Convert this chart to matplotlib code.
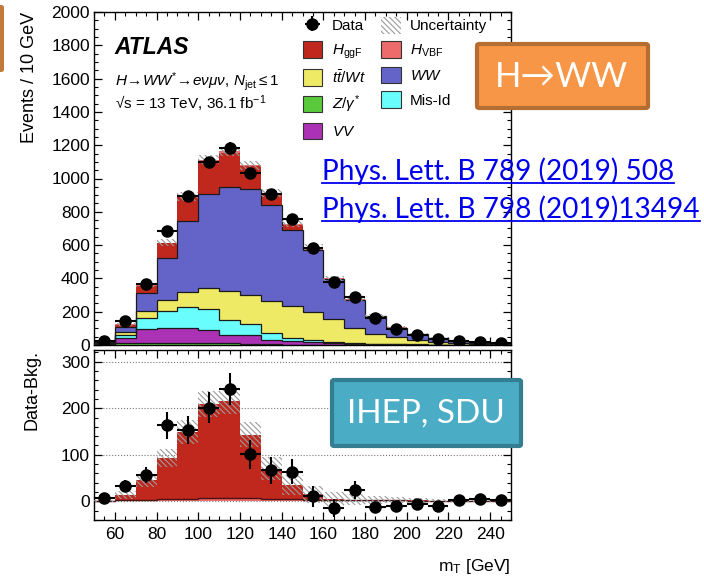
import numpy as np
import matplotlib
matplotlib.use('Agg')
import matplotlib.pyplot as plt
import matplotlib.patches as mpatches
from matplotlib.lines import Line2D
from matplotlib.ticker import MultipleLocator

plt.rcParams['font.family'] = ['Liberation Sans', 'DejaVu Sans']
plt.rcParams['mathtext.fontset'] = 'custom'
plt.rcParams['mathtext.rm'] = 'Liberation Sans'
plt.rcParams['mathtext.it'] = 'Liberation Sans:italic'
plt.rcParams['mathtext.bf'] = 'Liberation Sans:bold'
plt.rcParams['hatch.linewidth'] = 0.8

# m_T bins, 10 GeV wide
edges = np.arange(50, 260, 10)
centers = edges[:-1] + 5

# stacked components (events / 10 GeV)
zjets = [2, 12, 15, 15, 14, 12, 10, 8, 5, 3, 2, 1, 1, 0.5, 0.5, 0.5, 0.3, 0.3, 0.2, 0.2]
vv = [1, 28, 79, 85, 86, 78, 50, 50, 27, 21, 16, 11, 7, 4.5, 3.5, 2.5, 1.7, 0.7, 0.8, 0.3]
misid = [3, 22, 69, 105, 129, 125, 92, 71, 42, 20, 10, 4, 2, 2, 1, 1, 1, 1, 0.5, 0.5]
ttbar = [4, 16, 42, 67, 89, 127, 175, 174, 189, 191, 170, 139, 95, 61, 43, 26, 15, 10, 6.5, 3]
ww = [10, 32, 110, 250, 425, 562, 621, 635, 580, 458, 374, 240, 165, 104, 56, 34, 24, 10, 6, 2]
hggf = [0, 12, 42, 88, 143, 202, 207, 136, 64, 30, 11, 3, 1, 1, 0.5, 0.5, 0.3, 0.3, 0.2, 0.2]
hvbf = [1, 2, 3, 5, 6, 8, 8, 7, 6, 5, 4, 3, 3, 2, 2, 1.5, 1.5, 1, 1, 1]
unc = [3, 8, 14, 20, 25, 28, 28, 27, 25, 22, 18, 15, 12, 9, 7, 5, 4, 3, 2, 2]

data = [25, 145, 365, 685, 893, 1098, 1185, 1035, 908, 755, 582, 381, 291, 161, 94, 60, 34, 26, 20, 10]
data_err = [5, 12, 17, 29, 30, 33, 34, 31, 29, 27, 23, 20, 19, 9, 8, 7, 6, 5, 5, 4]
diff = [7, 34, 56, 163, 154, 201, 241, 101, 67, 64, 11, -14, 24, -12, -11, -6, -10, 4, 6, 4]

col_z = '#5ACA3C'
col_vv = '#AB32B5'
col_mis = '#6AFDFD'
col_tt = '#EFEA65'
col_ww = '#6464C8'
col_ggf = '#C0281E'
col_vbf = '#EE6B6B'
hatch = '\\\\\\\\\\\\'
hatch_col = '#9a9a9a'

W, H = 704, 576
fig = plt.figure(figsize=(W / 100, H / 100), dpi=100)

def fx(px):
    return px / W

def fy(py):
    return 1 - py / H

ax1 = fig.add_axes([fx(94), fy(345), fx(511) - fx(94), fy(12) - fy(345)])
ax2 = fig.add_axes([fx(94), fy(520), fx(511) - fx(94), fy(350) - fy(520)])

# ---- top panel: stacked histogram
stack = [(zjets, col_z), (vv, col_vv), (misid, col_mis), (ttbar, col_tt),
         (ww, col_ww), (hggf, col_ggf), (hvbf, col_vbf)]
base = np.zeros(len(centers))
outlines = []
for vals, col in stack:
    top = base + np.array(vals, dtype=float)
    ax1.stairs(top, edges, baseline=base, fill=True, color=col, lw=0, zorder=2)
    outlines.append((top, col))
    base = top
total = base
for top, col in outlines[:-2]:
    ax1.stairs(top, edges, baseline=None, color='#1a1a1a', lw=0.9, zorder=3)

unc_a = np.array(unc, dtype=float)
ax1.bar(centers, 2 * unc_a, bottom=total - unc_a, width=10, fill=False,
        hatch=hatch, edgecolor=hatch_col, lw=0, zorder=4)
data_c = ax1.errorbar(centers, data, yerr=data_err, xerr=5, fmt='o', color='black',
                      ms=8, lw=1.5, capsize=0, zorder=5)

ax1.set_xlim(50, 250)
ax1.set_ylim(0, 2000)
ax1.xaxis.set_major_locator(MultipleLocator(20))
ax1.xaxis.set_minor_locator(MultipleLocator(5))
ax1.yaxis.set_major_locator(MultipleLocator(200))
ax1.yaxis.set_minor_locator(MultipleLocator(50))
ax1.tick_params(labelbottom=False)
ax1.set_ylabel('Events / 10 GeV', loc='top', fontsize=13)
ax1.yaxis.set_label_coords(-0.135, 1.0)

ax1.text(0.05, 0.874, 'ATLAS', transform=ax1.transAxes, fontsize=16.5,
         fontweight='bold', fontstyle='italic', va='baseline')
ax1.text(0.05, 0.778, r'$H\!\rightarrow\!WW^{*}\!\rightarrow\!e\nu\mu\nu$, $N_{\mathrm{jet}}\leq 1$',
         transform=ax1.transAxes, fontsize=11, va='baseline')
ax1.text(0.05, 0.708, '\u221as = 13 TeV, 36.1 fb$^{-1}$',
         transform=ax1.transAxes, fontsize=11, va='baseline')

def patch(col):
    return mpatches.Patch(facecolor=col, edgecolor='#333333', lw=0.8)

unc_patch = mpatches.Patch(facecolor='none', edgecolor=hatch_col, hatch=hatch, lw=0)
handles = [data_c, patch(col_ggf), patch(col_tt), patch(col_z), patch(col_vv),
           unc_patch, patch(col_vbf), patch(col_ww), patch(col_mis)]
labels = ['Data', r'$H_{\mathrm{ggF}}$', r'$t\bar{t}/Wt$', r'$Z/\gamma^{*}$', r'$VV$',
          'Uncertainty', r'$H_{\mathrm{VBF}}$', r'$WW$', 'Mis-Id']
ax1.legend(handles, labels, ncol=2, loc='upper left', bbox_to_anchor=(0.5, 0.985),
           frameon=False, fontsize=11, handlelength=1.3, handleheight=1.3,
           labelspacing=0.5, handletextpad=0.6, columnspacing=1.0,
           borderpad=0, borderaxespad=0)

# ---- bottom panel: data minus background
hvbf_a = np.array(hvbf, dtype=float)
sig = hvbf_a + np.array(hggf, dtype=float)
ax2.yaxis.grid(True, ls=':', color='#777777', lw=0.8, zorder=0)
ax2.stairs(hvbf_a, edges, baseline=0, fill=True, color=col_vbf, lw=0, zorder=2)
ax2.stairs(sig, edges, baseline=hvbf_a, fill=True, color=col_ggf, lw=0, zorder=2)
ax2.stairs(hvbf_a, edges, baseline=None, color='#4a1212', lw=1.0, zorder=3)
ax2.bar(centers, 2 * unc_a, bottom=sig - unc_a, width=10, fill=False,
        hatch=hatch, edgecolor=hatch_col, lw=0, zorder=4)
ax2.errorbar(centers, diff, yerr=data_err, xerr=5, fmt='o', color='black',
             ms=8, lw=1.5, capsize=0, zorder=5)

ax2.set_xlim(50, 250)
ax2.set_ylim(-40, 325)
ax2.xaxis.set_major_locator(MultipleLocator(20))
ax2.xaxis.set_minor_locator(MultipleLocator(5))
ax2.yaxis.set_major_locator(MultipleLocator(100))
ax2.yaxis.set_minor_locator(MultipleLocator(20))
ax2.set_ylabel('Data-Bkg.', loc='top', fontsize=13)
ax2.yaxis.set_label_coords(-0.128, 1.0)
ax2.set_xlabel(r'm$_{\mathrm{T}}$ [GeV]', loc='right', fontsize=12.5)
ax2.xaxis.set_label_coords(1.0, -0.215)

for ax in (ax1, ax2):
    ax.tick_params(which='both', direction='in', top=True, right=True, labelsize=12.5)
    ax.tick_params(which='major', length=6, width=0.9)
    ax.tick_params(which='minor', length=3, width=0.8)
    ax.tick_params(axis='y', pad=3)
    ax.tick_params(axis='x', pad=5)
    for s in ax.spines.values():
        s.set_linewidth(1.0)

# ---- slide overlays
slide_font = ['Lato', 'DejaVu Sans']
fig.patches.append(mpatches.FancyBboxPatch((fx(-6), fy(72)), fx(10), fy(5) - fy(72),
                   boxstyle='round,pad=0,rounding_size=0.004', transform=fig.transFigure,
                   fc='#C27A3A', ec='none', zorder=10))
fig.patches.append(mpatches.FancyBboxPatch((fx(477), fy(108)), fx(171), fy(44) - fy(108),
                   boxstyle='round,pad=0,rounding_size=0.003', transform=fig.transFigure,
                   fc='#F79646', ec='#B66D31', lw=3, zorder=10))
fig.text(fx(561), fy(77), 'H→WW', color='white', fontsize=25, family=slide_font,
         ha='center', va='center', zorder=11)
fig.patches.append(mpatches.FancyBboxPatch((fx(332), fy(446)), fx(189), fy(380) - fy(446),
                   boxstyle='round,pad=0,rounding_size=0.003', transform=fig.transFigure,
                   fc='#4BACC6', ec='#357D91', lw=3, zorder=10))
fig.text(fx(426), fy(414), 'IHEP, SDU', color='white', fontsize=24, family=slide_font,
         ha='center', va='center', zorder=11)

links = [('Phys. Lett. B 789 (2019) 508', 180), ('Phys. Lett. B 798 (2019)13494', 218)]
link_texts = []
for txt, base_y in links:
    t = fig.text(fx(322), fy(base_y), txt, color='#0000EE', fontsize=20.2,
                 family=slide_font, va='baseline', zorder=11)
    link_texts.append((t, base_y))

fig.canvas.draw()
r = fig.canvas.get_renderer()
for t, base_y in link_texts:
    bb = t.get_window_extent(r)
    fig.add_artist(Line2D([fx(bb.x0), min(fx(bb.x1), 1.0)], [fy(base_y + 3), fy(base_y + 3)],
                          transform=fig.transFigure, color='#0000EE', lw=1.3, zorder=11))

fig.savefig('out.png', dpi=100)
